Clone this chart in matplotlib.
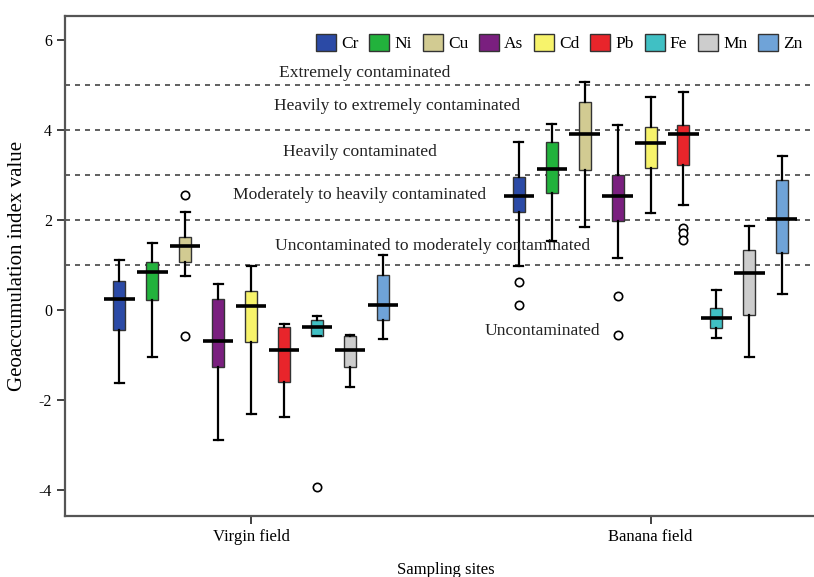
import numpy as np
import matplotlib as mpl
mpl.use('Agg')
import matplotlib.pyplot as plt
from matplotlib.patches import Patch

plt.rcParams['font.family'] = ['Liberation Serif', 'DejaVu Serif']

metals = ['Cr', 'Ni', 'Cu', 'As', 'Cd', 'Pb', 'Fe', 'Mn', 'Zn']
colors = ['#2b4aa6', '#22b23c', '#d2cb92', '#7a1f7f', '#f7f36b',
          '#e8252b', '#40c0c4', '#cdcdcd', '#6fa3d8']
sites = ['Virgin field', 'Banana field']

# whisker low, q1, median, q3, whisker high
virgin_lo = [-1.63, -1.04, 0.76, -2.89, -2.31, -2.39, -0.59, -1.72, -0.64]
virgin_q1 = [-0.44, 0.21, 1.07, -1.27, -0.72, -1.61, -0.57, -1.28, -0.22]
virgin_med = [0.24, 0.85, 1.41, -0.70, 0.09, -0.90, -0.39, -0.90, 0.10]
virgin_q3 = [0.65, 1.07, 1.63, 0.24, 0.43, -0.37, -0.22, -0.58, 0.78]
virgin_hi = [1.11, 1.48, 2.17, 0.58, 0.98, -0.31, -0.13, -0.56, 1.22]
virgin_out = [[], [], [2.56, -0.59], [], [], [], [-3.94], [], []]

banana_lo = [0.98, 1.52, 1.84, 1.15, 2.15, 2.33, -0.63, -1.05, 0.36]
banana_q1 = [2.17, 2.59, 3.10, 1.98, 3.16, 3.22, -0.41, -0.11, 1.26]
banana_med = [2.54, 3.13, 3.91, 2.54, 3.70, 3.90, -0.19, 0.81, 2.02]
banana_q3 = [2.96, 3.72, 4.61, 3.00, 4.07, 4.10, 0.04, 1.33, 2.89]
banana_hi = [3.73, 4.13, 5.06, 4.10, 4.74, 4.85, 0.44, 1.87, 3.41]
banana_out = [[0.63, 0.11], [], [], [0.30, -0.56], [], [1.81, 1.70, 1.56], [], [], []]

thresholds = [1, 2, 3, 4, 5]
classes = ['Extremely contaminated', 'Heavily to extremely contaminated',
           'Heavily contaminated', 'Moderately to heavily contaminated',
           'Uncontaminated to moderately contaminated', 'Uncontaminated']
class_xy = [(0.285, 5.27), (0.366, 4.53), (0.272, 3.51), (0.272, 2.56),
            (0.453, 1.42), (0.730, -0.47)]

fig = plt.figure(figsize=(8.14, 5.77), dpi=100)
ax = fig.add_axes([0.08, 0.1057, 0.935, 0.8666])

step = 0.0825
for s, (lo, q1, med, q3, hi, out) in enumerate([
        (virgin_lo, virgin_q1, virgin_med, virgin_q3, virgin_hi, virgin_out),
        (banana_lo, banana_q1, banana_med, banana_q3, banana_hi, banana_out)]):
    for i in range(len(metals)):
        st = dict(whislo=lo[i], q1=q1[i], med=med[i], q3=q3[i], whishi=hi[i],
                  fliers=out[i], label=metals[i])
        pos = s + (i - 4) * step
        b = ax.bxp([st], positions=[pos], widths=0.03, patch_artist=True,
                   showfliers=True, manage_ticks=False,
                   boxprops=dict(facecolor=colors[i], edgecolor='#333333', linewidth=1),
                   whiskerprops=dict(color='black', linewidth=1.6),
                   capprops=dict(color='black', linewidth=1.6),
                   capwidths=0.022,
                   medianprops=dict(color='black', linewidth=2.6),
                   flierprops=dict(marker='o', markerfacecolor='white',
                                   markeredgecolor='black', markersize=6,
                                   markeredgewidth=1.2))
        for m in b['medians']:
            x0, x1 = m.get_xdata()[0], m.get_xdata()[1]
            c = (x0 + x1) / 2
            m.set_xdata([c - 0.038, c + 0.038])

for t in thresholds:
    ax.axhline(t, color='#444444', linestyle=(0, (3, 3)), linewidth=1.2, zorder=0)

for txt, (x, y) in zip(classes, class_xy):
    ax.text(x, y, txt, ha='center', va='center', fontsize=12.6, color='#222222')

ax.set_xlim(-0.466, 1.44)
ax.set_ylim(-4.58, 6.53)
ax.set_xticks([0, 1])
ax.set_xticklabels(sites, fontsize=12)
ax.set_yticks([-4, -2, 0, 2, 4, 6])
ax.set_yticklabels(['-4', '-2', '0', '2', '4', '6'], fontsize=11.5)
ax.tick_params(axis='both', length=6, width=1.3, color='#333333')
ax.set_ylabel('Geoaccumulation index value', fontsize=15, labelpad=8)
ax.set_xlabel('Sampling sites', fontsize=12, labelpad=12)
for sp in ax.spines.values():
    sp.set_linewidth(1.6)
    sp.set_color('#555555')

handles = [Patch(facecolor=c, edgecolor='#333333', label=m) for m, c in zip(metals, colors)]
ax.legend(handles=handles, loc='upper right', bbox_to_anchor=(0.983, 0.985), ncol=9,
          frameon=False, fontsize=12.5, handlelength=1.15, handleheight=1.15,
          handletextpad=0.3, columnspacing=0.62, borderaxespad=0.2)

fig.savefig('out.png', dpi=100)
